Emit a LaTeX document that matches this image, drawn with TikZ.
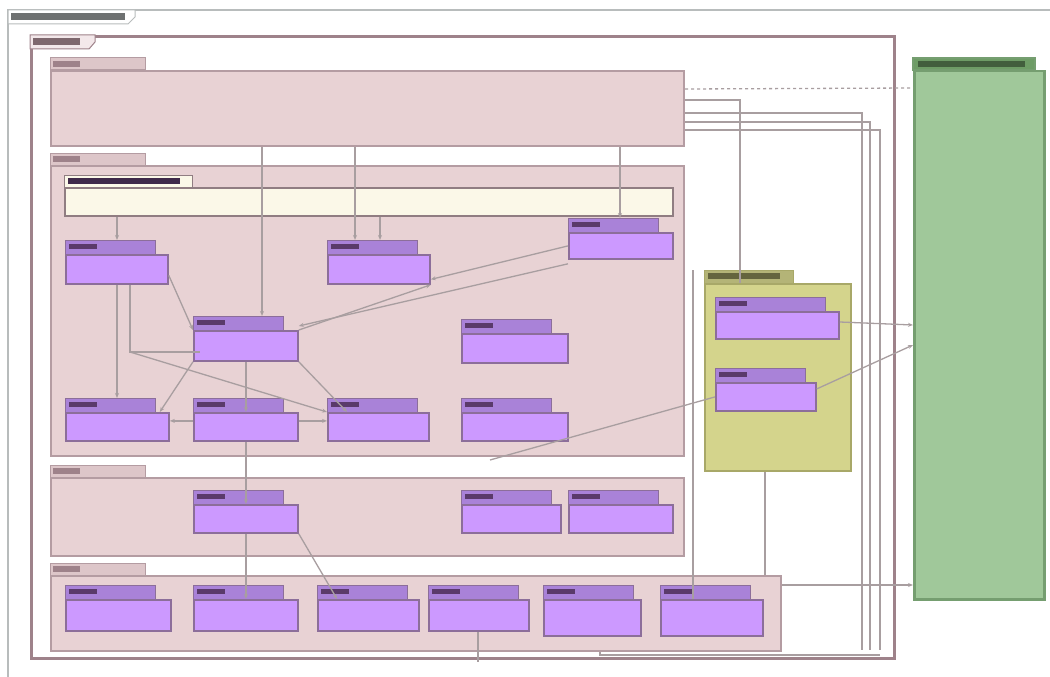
\documentclass[tikz,border=0pt]{standalone}
\usetikzlibrary{arrows.meta,calc}
\definecolor{frameg}{HTML}{B8BCBC}
\definecolor{mauve}{HTML}{9E828A}
\definecolor{pkfill}{HTML}{E8D2D4}
\definecolor{pkline}{HTML}{B49CA2}
\definecolor{clsfill}{HTML}{CC99FF}
\definecolor{clstabc}{HTML}{A982D8}
\definecolor{clsline}{HTML}{8C6E9A}
\definecolor{ylfill}{HTML}{D4D48C}
\definecolor{ylline}{HTML}{A8A868}
\definecolor{paley}{HTML}{FBF8E8}
\definecolor{grfill}{HTML}{A0C89A}
\definecolor{grline}{HTML}{759E70}
\definecolor{grtab}{HTML}{6E9C66}
\definecolor{conn}{HTML}{A89EA0}
\definecolor{lab}{HTML}{5A3A6A}
\tikzset{
  pkbody/.style={draw=pkline,fill=pkfill,line width=2pt,inner sep=0pt,anchor=north west},
  pktab/.style={draw=pkline,fill=pkfill!85!mauve,line width=1pt},
  clsbody/.style={draw=clsline,fill=clsfill,line width=1.8pt,inner sep=0pt,anchor=north west},
  clstab/.style={draw=clsline,fill=clstabc,line width=1pt},
  labelbar/.style={fill=lab},
  cn/.style={draw=conn,line width=1.3pt},
  cna/.style={draw=conn,line width=1.3pt,-{Stealth[open,length=5pt,width=4pt]}},
}
% name, x1, y1 (top of tab), x2, y2 (bottom), tab width
\newcommand\clsnode[6]{%
  \draw[clstab] (#2,#3) rectangle (#2+#6,#3+14);
  \node[clsbody,minimum width={(#4-(#2))*1pt},minimum height={(#5-(#3)-14)*1pt}] (#1) at (#2,#3+14) {};
  \fill[labelbar] (#2+4,#3+4) rectangle (#2+32,#3+9);
}
\newcommand\pkgnode[7]{% name, x1,y1,x2,y2, tabwidth, body style
  \draw[pktab,#7] (#2,#3) rectangle (#2+#6,#3+12);
  \node[pkbody,#7,minimum width={(#4-(#2))*1pt},minimum height={(#5-(#3)-12)*1pt}] (#1) at (#2,#3+12) {};
  \fill[mauve] (#2+3,#3+3) rectangle (#2+30,#3+9);
}
\begin{document}
\begin{tikzpicture}[x=1pt,y=-1pt]
\useasboundingbox (0,0) rectangle (1050,677);
% outer diagram frame
\draw[frameg,line width=2.5pt] (8,677) -- (8,10) -- (1050,10);
\draw[frameg,line width=1pt,fill=white] (8,10) -- (135,10) -- (135,17) -- (128,24) -- (8,24) -- cycle;
\fill[frameg!60!black] (11,13) rectangle (125,20);
% main frame
\node[draw=mauve,line width=3pt,fill=white,minimum width=863pt,minimum height=622pt,anchor=north west,inner sep=0pt] (main) at (30,35) {};
\draw[mauve,line width=1pt,fill=pkfill!50] (30,35) -- (95,35) -- (95,42) -- (89,49) -- (30,49) -- cycle;
\fill[mauve!80!black] (33,38) rectangle (80,45);

% green package
\draw[draw=grline,line width=1.5pt,fill=grtab] (913,58) rectangle (1035,70);
\node[draw=grline,line width=2.5pt,fill=grfill,minimum width=130pt,minimum height=528pt,anchor=north west,inner sep=0pt] (green) at (913,70) {};
\fill[grtab!60!black] (918,61) rectangle (1025,67);

% packages
\pkgnode{top}{50}{58}{683}{145}{95}{}
\pkgnode{mid}{50}{153}{683}{455}{95}{}
\pkgnode{low}{50}{465}{683}{555}{95}{}
\pkgnode{base}{50}{563}{780}{650}{95}{}
% pale yellow package
\draw[draw=pkline!80!black,line width=1pt,fill=paley] (64,175) rectangle (192,187);
\node[draw=pkline!80!black,line width=1.8pt,fill=paley,minimum width=608pt,minimum height=28pt,anchor=north west,inner sep=0pt] (pale) at (64,187) {};
\fill[lab!70!black] (68,178) rectangle (180,184);
% yellow-green package
\draw[draw=ylline,line width=1pt,fill=ylfill!85!black] (704,270) rectangle (793,283);
\node[draw=ylline,line width=2pt,fill=ylfill,minimum width=146pt,minimum height=187pt,anchor=north west,inner sep=0pt] (yel) at (704,283) {};
\fill[ylline!60!black] (708,273) rectangle (780,279);

% classes
\clsnode{A}{65}{240}{167}{283}{90}
\clsnode{B}{327}{240}{429}{283}{90}
\clsnode{C}{568}{218}{672}{258}{90}
\clsnode{D}{193}{316}{297}{360}{90}
\clsnode{E}{461}{319}{567}{362}{90}
\clsnode{F}{65}{398}{168}{440}{90}
\clsnode{G}{193}{398}{297}{440}{90}
\clsnode{H}{327}{398}{428}{440}{90}
\clsnode{I}{461}{398}{567}{440}{90}
\clsnode{J}{193}{490}{297}{532}{90}
\clsnode{K}{461}{490}{560}{532}{90}
\clsnode{L}{568}{490}{672}{532}{90}
\clsnode{M}{65}{585}{170}{630}{90}
\clsnode{N}{193}{585}{297}{630}{90}
\clsnode{O}{317}{585}{418}{630}{90}
\clsnode{P}{428}{585}{528}{630}{90}
\clsnode{Q}{543}{585}{640}{635}{90}
\clsnode{R}{660}{585}{762}{635}{90}
\clsnode{S}{715}{297}{838}{338}{110}
\clsnode{T}{715}{368}{815}{410}{90}

% connectors inside middle package
\draw[cna] (pale.south -| 117,0) -- (117,240);
\draw[cna] (top.south -| 262,0) -- (262,316);
\draw[cna] (top.south -| 355,0) -- (355,240);
\draw[cna] (pale.south -| 380,0) -- (380,240);
\draw[cna] (top.south -| 620,0) -- (620,218);
\draw[cna] (A.south -| 117,0) -- (117,398);
\draw[cn] (A.south -| 130,0) -- (130,352) -- (200,352);
\draw[cna] (130,352) -- (H.north west);
\draw[cna] (A.east) ++(0,6) -- (D.north west);
\draw[cna] (D.north east) -- (B.south east);
\draw[cna] (C.west) -- ([yshift=-10pt]B.east);
\draw[cna] ([yshift=-4pt]C.south west) -- ([yshift=4pt]D.north east);
\draw[cna] (D.south) -- (G.north);
\draw[cna] (D.south west) -- ([xshift=-10pt]F.north east);
\draw[cna] (D.south east) -- ([xshift=20pt]H.north west);
\draw[cna] ([yshift=6pt]G.west) -- ([yshift=6pt]F.east);
\draw[cna] ([yshift=6pt]G.east) -- ([yshift=6pt]H.west);
\draw[cna] (G.south) -- (J.north);
\draw[cna] (J.south) -- (N.north);
\draw[cna] (J.south east) -- ([xshift=20pt]O.north west);
\draw[cn] (490,460) -- (T.west);
% right-hand connectors
\draw[cn,dashed] ([yshift=-1pt]top.north east |- 0,88) -- (green.west |- 0,88);
\draw[cn] (top.east |- 0,100) -- (740,100) -- (yel.north -| 740,0);
\draw[cn] (top.east |- 0,113) -- (862,113) -- (862,650);
\draw[cn] (top.east |- 0,122) -- (870,122) -- (870,650);
\draw[cn] (top.east |- 0,130) -- (880,130) -- (880,650);
\draw[cna] (S.east |- 0,322) -- (green.west |- 0,325);
\draw[cna] (T.east) ++(0,-8) -- (green.west |- 0,345);
\draw[cn] (yel.south -| 765,0) -- (base.north -| 765,0);
\draw[cn] (693,270) -- (R.north -| 693,0);
\draw[cna] (base.east |- 0,585) -- (green.west |- 0,585);
\draw[cn] (P.south -| 478,0) -- (478,662);
\draw[cn] (base.south -| 600,0) -- (600,655) -- (880,655);
\end{tikzpicture}
\end{document}
